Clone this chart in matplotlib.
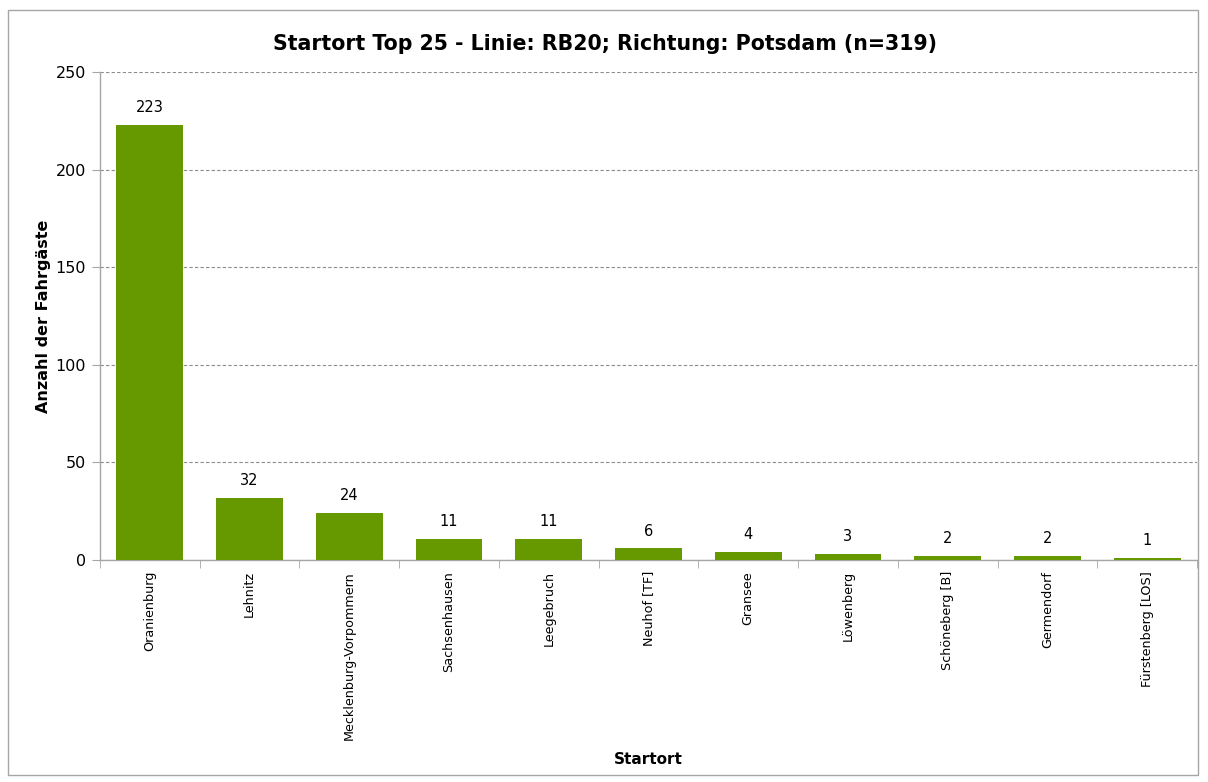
import matplotlib.pyplot as plt
import matplotlib.patches as patches
import numpy as np

# Data
orte = ['Oranienburg', 'Lehnitz', 'Mecklenburg-Vorpommern', 'Sachsenhausen',
        'Leegebruch', 'Neuhof [TF]', 'Gransee', 'Löwenberg', 'Schöneberg [B]',
        'Germendorf', 'Fürstenberg [LOS]']
anzahl = [223, 32, 24, 11, 11, 6, 4, 3, 2, 2, 1]

bar_color = '#669900'
axis_gray = '#A6A6A6'

fig = plt.figure(figsize=(12.08, 7.82), dpi=100)
ax = fig.add_axes([100 / 1208, 1 - 560 / 782, 1097 / 1208, 488 / 782])

x = np.arange(len(orte))
bars = ax.bar(x, anzahl, width=0.67, color=bar_color, zorder=3)
for xi, v in zip(x, anzahl):
    ax.text(xi, v + 5, str(v), ha='center', va='bottom', fontsize=10.5)

ax.set_xlim(-0.5, len(orte) - 0.5)
ax.set_ylim(0, 250)
ax.set_yticks(range(0, 251, 50))
ax.yaxis.grid(True, linestyle=(0, (3, 2)), color='#8C8C8C', linewidth=0.8)
ax.set_axisbelow(True)

ax.set_xticks(x)
ax.set_xticklabels(orte, rotation=90, fontsize=9.2)
ax.set_xticks(np.arange(-0.5, len(orte)), minor=True)
ax.tick_params(axis='x', which='major', length=0, pad=8)
ax.tick_params(axis='x', which='minor', length=6, color=axis_gray, direction='out')
ax.tick_params(axis='y', length=6, color=axis_gray, labelsize=11.5, pad=4)

for s in ['top', 'right']:
    ax.spines[s].set_visible(False)
for s in ['left', 'bottom']:
    ax.spines[s].set_color(axis_gray)
    ax.spines[s].set_linewidth(1.0)

ax.set_ylabel('Anzahl der Fahrgäste', fontsize=11.5, fontweight='bold')
ax.yaxis.set_label_coords(-(100 - 51) / 1097, 0.5)
ax.set_xlabel('Startort', fontsize=11, fontweight='bold')
ax.xaxis.set_label_coords(0.5, -(752 - 560) / 488)

fig.text(605 / 1208, 1 - 44 / 782, 'Startort Top 25 - Linie: RB20; Richtung: Potsdam (n=319)',
         ha='center', va='center', fontsize=14.8, fontweight='bold')

# outer chart frame
frame = patches.Rectangle((8 / 1208, 1 - 775 / 782), 1190 / 1208, 765 / 782,
                          transform=fig.transFigure, fill=False,
                          edgecolor='#A6A6A6', linewidth=1.0)
fig.patches.append(frame)

fig.savefig('out.png', dpi=100)
